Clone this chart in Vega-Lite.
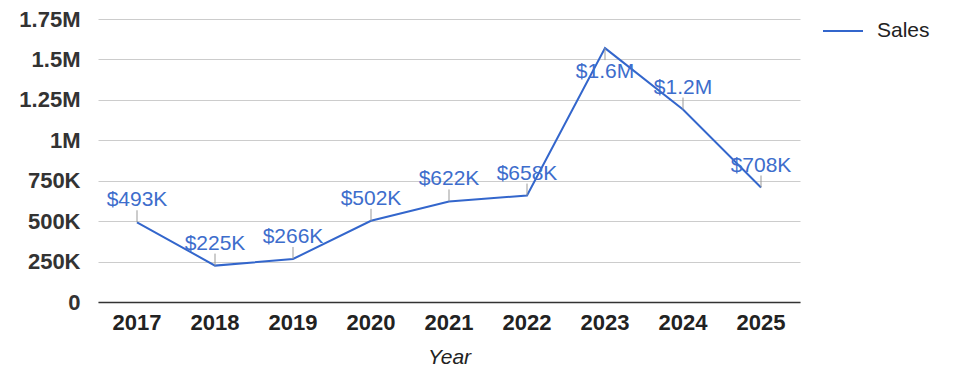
{
  "$schema": "https://vega.github.io/schema/vega-lite/v6.json",
  "width": 702,
  "height": 283,
  "autosize": {"type": "none"},
  "padding": {"left": 98, "top": 19, "right": 175, "bottom": 76},
  "background": "white",
  "config": {
    "view": {"stroke": null},
    "font": "Liberation Sans, Arial, sans-serif"
  },
  "data": {
    "values": [
      {"Year": "2017", "Sales": 493000, "label": "$493K"},
      {"Year": "2018", "Sales": 225000, "label": "$225K"},
      {"Year": "2019", "Sales": 266000, "label": "$266K"},
      {"Year": "2020", "Sales": 502000, "label": "$502K"},
      {"Year": "2021", "Sales": 622000, "label": "$622K"},
      {"Year": "2022", "Sales": 658000, "label": "$658K"},
      {"Year": "2023", "Sales": 1570000, "label": "$1.6M"},
      {"Year": "2024", "Sales": 1190000, "label": "$1.2M"},
      {"Year": "2025", "Sales": 708000, "label": "$708K"}
    ]
  },
  "encoding": {
    "x": {
      "field": "Year",
      "type": "ordinal",
      "scale": {"type": "band", "paddingInner": 0, "paddingOuter": 0},
      "axis": {
        "labelAngle": 0,
        "labelFontSize": 22,
        "labelFontWeight": "bold",
        "labelColor": "#222222",
        "labelPadding": 10,
        "tickSize": 0,
        "domainColor": "#333333",
        "domainWidth": 1.5,
        "title": "Year",
        "titleFontSize": 21,
        "titleFontStyle": "italic",
        "titleFontWeight": "normal",
        "titleColor": "#222222",
        "titlePadding": 13
      }
    },
    "y": {
      "field": "Sales",
      "type": "quantitative",
      "scale": {"domain": [0, 1750000], "nice": false},
      "axis": {
        "values": [0, 250000, 500000, 750000, 1000000, 1250000, 1500000, 1750000],
        "labelExpr": "datum.value == 0 ? '0' : datum.value >= 1000000 ? format(datum.value / 1000000, '~g') + 'M' : format(datum.value / 1000, '~g') + 'K'",
        "labelFontSize": 22,
        "labelFontWeight": "bold",
        "labelColor": "#333333",
        "labelPadding": 18,
        "tickSize": 0,
        "domain": false,
        "gridColor": "#cccccc",
        "title": null
      }
    }
  },
  "layer": [
    {
      "mark": {"type": "line", "strokeWidth": 2},
      "encoding": {
        "color": {
          "datum": "Sales",
          "type": "nominal",
          "scale": {"range": ["#3366cc"]},
          "legend": {
            "title": null,
            "orient": "none",
            "legendX": 724,
            "legendY": -9,
            "symbolType": "stroke",
            "symbolSize": 1600,
            "symbolStrokeWidth": 2,
            "labelFontSize": 21,
            "labelColor": "#222222",
            "labelOffset": 13,
            "padding": 0
          }
        }
      }
    },
    {
      "transform": [{"filter": "datum.Year != '2023'"}],
      "mark": {"type": "rule", "color": "#999999", "strokeWidth": 1, "y2Offset": -12},
      "encoding": {"y2": {"field": "Sales"}}
    },
    {
      "transform": [{"filter": "datum.Year == '2023'"}],
      "mark": {"type": "rule", "color": "#999999", "strokeWidth": 1, "y2Offset": 12},
      "encoding": {"y2": {"field": "Sales"}}
    },
    {
      "transform": [{"filter": "datum.Year != '2023'"}],
      "mark": {"type": "text", "fontSize": 21, "color": "#3d6dcc", "baseline": "alphabetic", "dy": -16},
      "encoding": {"text": {"field": "label"}}
    },
    {
      "transform": [{"filter": "datum.Year == '2023'"}],
      "mark": {"type": "text", "fontSize": 21, "color": "#3d6dcc", "baseline": "alphabetic", "dy": 30},
      "encoding": {"text": {"field": "label"}}
    }
  ]
}
